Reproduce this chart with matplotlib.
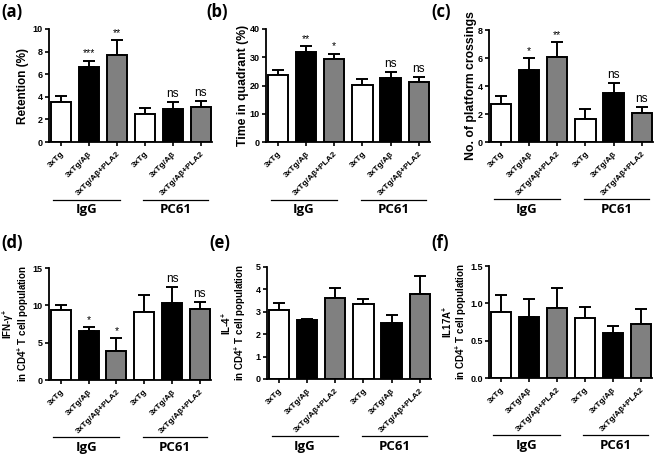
import numpy as np
import matplotlib
matplotlib.use('Agg')
import matplotlib.pyplot as plt
import matplotlib.transforms as mtransforms

plt.rcParams['font.family'] = ['Liberation Sans', 'DejaVu Sans']
plt.rcParams['mathtext.fontset'] = 'custom'
plt.rcParams['mathtext.rm'] = 'Liberation Sans:bold'
plt.rcParams['mathtext.it'] = 'Liberation Sans:bold'
plt.rcParams['mathtext.bf'] = 'Liberation Sans:bold'
plt.rcParams['mathtext.default'] = 'bf'

# x categories (same in every panel)
conditions = ['3xTg', '3xTg/Aβ', '3xTg/Aβ+PLA2', '3xTg', '3xTg/Aβ', '3xTg/Aβ+PLA2']
treatments = ['IgG', 'PC61']
bar_colors = ['white', 'black', '#808080', 'white', 'black', '#808080']

# (a) retention
retention_mean = [3.5, 6.65, 7.7, 2.5, 2.95, 3.12]
retention_err = [0.6, 0.55, 1.3, 0.47, 0.6, 0.53]
retention_sig = ['', '***', '**', '', 'ns', 'ns']

# (b) time in quadrant
quadrant_mean = [23.8, 31.9, 29.3, 20.2, 22.7, 21.3]
quadrant_err = [1.6, 2.0, 2.0, 2.1, 2.2, 1.6]
quadrant_sig = ['', '**', '*', '', 'ns', 'ns']

# (c) platform crossings
crossing_mean = [2.69, 5.14, 6.1, 1.67, 3.5, 2.05]
crossing_err = [0.6, 0.86, 1.04, 0.69, 0.71, 0.47]
crossing_sig = ['', '*', '**', '', 'ns', 'ns']

# (d) IFN-g
ifng_mean = [9.4, 6.6, 3.95, 9.15, 10.35, 9.5]
ifng_err = [0.6, 0.5, 1.7, 2.25, 2.05, 0.95]
ifng_sig = ['', '*', '*', '', 'ns', 'ns']

# (e) IL-4
il4_mean = [3.06, 2.63, 3.6, 3.34, 2.49, 3.81]
il4_err = [0.35, 0.06, 0.48, 0.24, 0.36, 0.79]
il4_sig = [''] * 6

# (f) IL17A
il17_mean = [0.89, 0.82, 0.94, 0.8, 0.6, 0.72]
il17_err = [0.22, 0.24, 0.26, 0.15, 0.1, 0.2]
il17_sig = [''] * 6

W, H = 660, 455
fig = plt.figure(figsize=(W / 100, H / 100), dpi=100)


def px_axes(x0, y0, x1, y1):
    # pixel box (top-left origin) -> figure axes
    return fig.add_axes([x0 / W, 1 - y1 / H, (x1 - x0) / W, (y1 - y0) / H])


panels = [
    dict(box=(49, 29, 212, 142), mean=retention_mean, err=retention_err, sig=retention_sig,
         ylim=10, yticks=[0, 2, 4, 6, 8, 10], ylabel='Retention (%)', yfs=8.5, lx=-0.12,
         lab='(a)', lab_xy=(1, 12)),
    dict(box=(266, 29, 430, 142), mean=quadrant_mean, err=quadrant_err, sig=quadrant_sig,
         ylim=40, yticks=[0, 10, 20, 30, 40], ylabel='Time in quadrant (%)', yfs=8.8, lx=-0.105,
         lab='(b)', lab_xy=(206, 12)),
    dict(box=(489, 30, 653, 142), mean=crossing_mean, err=crossing_err, sig=crossing_sig,
         ylim=8, yticks=[0, 2, 4, 6, 8], ylabel='No. of platform crossings', yfs=8.8, lx=-0.075,
         lab='(c)', lab_xy=(431, 12)),
    dict(box=(49, 268, 211, 380), mean=ifng_mean, err=ifng_err, sig=ifng_sig,
         ylim=15, yticks=[0, 5, 10, 15], ylabel='IFN-$\\gamma^{+}$\nin CD4$^{+}$ T cell population', yfs=7,
         lx=-0.11, lab='(d)', lab_xy=(1, 243)),
    dict(box=(267, 267, 431, 379), mean=il4_mean, err=il4_err, sig=il4_sig,
         ylim=5, yticks=[0, 1, 2, 3, 4, 5], ylabel='IL-4$^{+}$\nin CD4$^{+}$ T cell population', yfs=7,
         lx=-0.115, lab='(e)', lab_xy=(209, 243)),
    dict(box=(489, 266, 652, 378), mean=il17_mean, err=il17_err, sig=il17_sig,
         ylim=1.5, yticks=[0.0, 0.5, 1.0, 1.5], ylabel='IL17A$^{+}$\nin CD4$^{+}$ T cell population', yfs=7,
         lx=-0.12, lab='(f)', lab_xy=(431, 243)),
]

x = np.arange(len(conditions))

for p in panels:
    ax = px_axes(*p['box'])
    ax.bar(x, p['mean'], width=0.72, color=bar_colors, edgecolor='black', linewidth=1.4, zorder=2)
    ax.errorbar(x, p['mean'], yerr=[np.zeros(6), p['err']], fmt='none', ecolor='black',
                elinewidth=1.4, capsize=4.5, capthick=1.4, zorder=1)
    ax.set_xlim(-0.42, 5.4)
    ax.set_ylim(0, p['ylim'])
    ax.set_yticks(p['yticks'])
    if p['ylim'] == 1.5:
        ax.set_yticklabels(['0.0', '0.5', '1.0', '1.5'])
    ax.set_xticks(x)
    ax.set_xticklabels(conditions, rotation=45, ha='right', rotation_mode='anchor',
                       fontsize=6, fontweight='bold')
    for t in ax.get_yticklabels():
        t.set_fontsize(6.5)
        t.set_fontweight('bold')
    ax.tick_params(axis='both', length=3, width=1.2, pad=1.5)
    ax.tick_params(axis='x', pad=3)
    for s in ['top', 'right']:
        ax.spines[s].set_visible(False)
    for s in ['left', 'bottom']:
        ax.spines[s].set_linewidth(1.3)
    ax.set_ylabel(p['ylabel'], fontsize=p['yfs'], fontweight='bold', linespacing=1.0)
    ax.yaxis.set_label_coords(p['lx'], 0.5)

    # significance marks
    for xi, m, e, s in zip(x, p['mean'], p['err'], p['sig']):
        if s:
            fs = 8.5 if s == 'ns' else 7.5
            ax.annotate(s, (xi, m + e), xytext=(0, 1.5), textcoords='offset points',
                        ha='center', va='bottom', fontsize=fs, annotation_clip=False)

    # group lines under the tick labels
    trans = mtransforms.blended_transform_factory(ax.transData, ax.transAxes)
    for g, (a, b) in zip(treatments, [(-0.26, 2.1), (2.95, 5.26)]):
        ax.plot([a, b], [-0.51, -0.51], color='black', lw=0.9, transform=trans, clip_on=False)
        ax.text((a + b) / 2, -0.6, g, transform=trans, ha='center', va='center',
                fontsize=9.5, fontweight='bold', family=['Open Sans', 'DejaVu Sans'])

    fig.text(p['lab_xy'][0] / W, 1 - p['lab_xy'][1] / H, p['lab'], ha='left', va='center',
             fontsize=12, fontweight='bold', family=['Open Sans', 'DejaVu Sans'])

fig.savefig('out.png', dpi=100)
